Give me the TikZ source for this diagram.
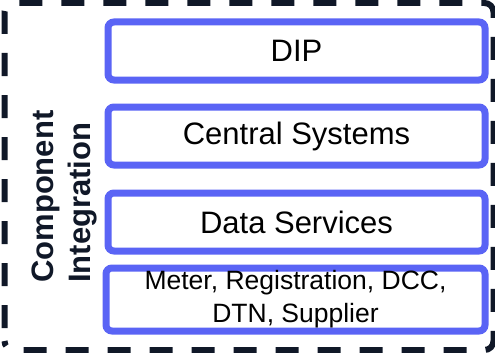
\documentclass[tikz,border=0pt]{standalone}
\usepackage{fontspec}
\setmainfont{Liberation Sans}
\definecolor{layerblue}{RGB}{90,100,245}
\definecolor{framenavy}{RGB}{16,24,40}

\begin{document}
\begin{tikzpicture}[x=1pt,y=-1pt,
    outerframe/.style={draw=framenavy, line width=6pt, dash pattern=on 23pt off 19pt, dash phase=29pt, rounded corners=9pt},
    layerbox/.style={draw=layerblue, line width=7pt, rounded corners=6pt, inner sep=0pt, font=\fontsize{31}{37}\selectfont},
    sidelabel/.style={text=framenavy, rotate=90, align=left, inner sep=0pt, font=\fontsize{31}{37}\selectfont\bfseries}]

\useasboundingbox (0,0) rectangle (495,353);

% 定义方框的宽和高
\pgfmathsetmacro{\boxw}{377}
\pgfmathsetmacro{\boxh}{58}

% 外框
\draw [outerframe] (4.5,350) -- (4.5,3) -- (493.5,3) -- (493.5,350) -- cycle;

\foreach \name/\ypos/\label in {dip/51/DIP, central/136/Central Systems, data/222/Data Services} {
    \node [layerbox, minimum width=\boxw pt, minimum height=\boxh pt] (\name) at (296.5,\ypos) {\label};
}

\node [layerbox, minimum width=379pt, minimum height=63pt, align=center, font=\fontsize{26.5}{33}\selectfont] (sources) at (295.5,299.5) {Meter, Registration, DCC,\\DTN, Supplier};

\node [sidelabel, anchor=south west] (side) at (97,283) {Component\\Integration};

\end{tikzpicture}
\end{document}
